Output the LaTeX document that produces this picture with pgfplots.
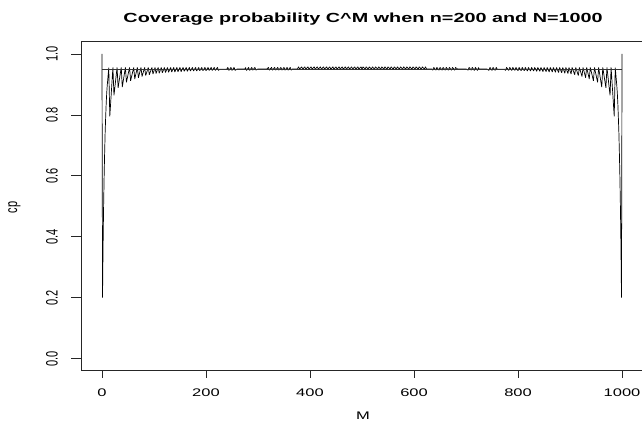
\documentclass[border=0pt]{standalone}
\usepackage{pgfplots}
\pgfplotsset{compat=1.18}
\usepackage{fontspec}
\setmainfont{Liberation Sans}
\newcommand\rfont{\fontsize{11}{13}\selectfont}
\pgfplotstableread{
M cp
0 1.000
1 0.200
2 0.360
3 0.490
4 0.590
5 0.670
6 0.740
7 0.790
8 0.835
9 0.870
10 0.895
11 0.915
12 0.935
13 0.955
15 0.795
21 0.956
23 0.864
29 0.956
31 0.889
37 0.956
39 0.891
45 0.956
47 0.907
53 0.956
55 0.912
61 0.956
63 0.918
68 0.956
70 0.922
75 0.956
77 0.926
82 0.956
84 0.929
89 0.956
91 0.932
96 0.956
98 0.934
102 0.956
104 0.936
108 0.956
110 0.937
114 0.956
116 0.938
120 0.956
122 0.939
126 0.956
128 0.940
132 0.956
134 0.941
138 0.956
140 0.941
144 0.956
146 0.942
150 0.956
152 0.942
156 0.956
158 0.943
162 0.956
164 0.943
168 0.956
170 0.944
174 0.956
176 0.944
180 0.956
182 0.944
186 0.956
188 0.945
192 0.956
194 0.945
198 0.956
200 0.945
204 0.956
206 0.946
210 0.956
212 0.946
216 0.956
218 0.946
222 0.956
224 0.946
226 0.950
240 0.950
242 0.956
244 0.946
248 0.956
250 0.946
254 0.956
256 0.946
260 0.951
275 0.951
276 0.956
278 0.946
282 0.956
284 0.946
288 0.956
290 0.947
294 0.956
296 0.947
300 0.951
317 0.951
320 0.956
322 0.947
326 0.956
328 0.947
332 0.956
334 0.947
338 0.956
340 0.947
344 0.956
346 0.947
350 0.956
352 0.947
356 0.956
358 0.947
362 0.956
364 0.947
366 0.951
376 0.951
378 0.958
380 0.950
384 0.958
386 0.950
390 0.958
392 0.950
396 0.958
398 0.950
402 0.958
404 0.950
408 0.958
410 0.950
414 0.958
416 0.950
420 0.958
422 0.950
426 0.958
428 0.950
432 0.958
434 0.950
438 0.958
440 0.950
444 0.958
446 0.950
450 0.958
452 0.950
456 0.958
458 0.950
462 0.958
464 0.950
468 0.958
470 0.950
474 0.958
476 0.950
480 0.958
482 0.950
486 0.958
488 0.950
492 0.958
494 0.950
498 0.958
500 0.950
502 0.958
506 0.950
508 0.958
512 0.950
514 0.958
518 0.950
520 0.958
524 0.950
526 0.958
530 0.950
532 0.958
536 0.950
538 0.958
542 0.950
544 0.958
548 0.950
550 0.958
554 0.950
556 0.958
560 0.950
562 0.958
566 0.950
568 0.958
572 0.950
574 0.958
578 0.950
580 0.958
584 0.950
586 0.958
590 0.950
592 0.958
596 0.950
598 0.958
602 0.950
604 0.958
608 0.950
610 0.958
614 0.950
616 0.958
620 0.950
622 0.958
624 0.951
634 0.951
636 0.947
638 0.956
642 0.947
644 0.956
648 0.947
650 0.956
654 0.947
656 0.956
660 0.947
662 0.956
666 0.947
668 0.956
672 0.947
674 0.956
678 0.947
680 0.956
683 0.951
700 0.951
704 0.947
706 0.956
710 0.947
712 0.956
716 0.946
718 0.956
722 0.946
724 0.956
725 0.951
740 0.951
744 0.946
746 0.956
750 0.946
752 0.956
756 0.946
758 0.956
760 0.950
774 0.950
776 0.946
778 0.956
782 0.946
784 0.956
788 0.946
790 0.956
794 0.946
796 0.956
800 0.945
802 0.956
806 0.945
808 0.956
812 0.945
814 0.956
818 0.944
820 0.956
824 0.944
826 0.956
830 0.944
832 0.956
836 0.943
838 0.956
842 0.943
844 0.956
848 0.942
850 0.956
854 0.942
856 0.956
860 0.941
862 0.956
866 0.941
868 0.956
872 0.940
874 0.956
878 0.939
880 0.956
884 0.938
886 0.956
890 0.937
892 0.956
896 0.936
898 0.956
902 0.934
904 0.956
909 0.932
911 0.956
916 0.929
918 0.956
923 0.926
925 0.956
930 0.922
932 0.956
937 0.918
939 0.956
945 0.912
947 0.956
953 0.907
955 0.956
961 0.891
963 0.956
969 0.889
971 0.956
977 0.864
979 0.956
985 0.795
987 0.955
988 0.935
989 0.915
990 0.895
991 0.870
992 0.835
993 0.790
994 0.740
995 0.670
996 0.590
997 0.490
998 0.360
999 0.200
1000 1.000
}\cpdata
\begin{document}
\begin{tikzpicture}[x=1pt,y=1pt]
\begin{axis}[
  at={(81.2pt,50.2pt)}, anchor=south west,
  scale only axis, width=563.8pt, height=329pt,
  xmin=-40, xmax=1044.2, ymin=-0.04, ymax=1.04,
  axis x line*=box, axis y line*=left,
  xtick={0,200,400,600,800,1000},
  ytick={0,0.2,0.4,0.6,0.8,1},
  minor tick num=0,
  tick align=outside,
  major tick length=6.7pt,
  xtick pos=bottom, ytick pos=left,
  axis line style={line width=0.8pt, black!85},
  xtick style={line width=0.8pt, black!85},
  ytick style={line width=0.8pt, black!85, /pgfplots/major tick length=10pt},
  tick label style={font=\rfont, inner sep=0pt, xscale=1.5},
  /pgf/number format/assume math mode=true,
  xticklabel style={anchor=north, /pgf/number format/1000 sep={}},
  yticklabel style={rotate=90, anchor=south, /pgf/number format/fixed, /pgf/number format/fixed zerofill, /pgf/number format/precision=1},
  xticklabel shift=10.8pt,
  yticklabel shift=16.3pt,
  xlabel={M}, ylabel={cp},
  every axis x label/.style={at={(axis description cs:0.5,-0.1374)}, anchor=center, font=\rfont, inner sep=0pt, xscale=1.5},
  every axis y label/.style={at={(axis description cs:-0.1184,0.4964)}, anchor=center, font=\rfont, inner sep=0pt, xscale=1.5, rotate=90},
  title={Coverage probability C\textasciicircum M when n=200 and N=1000},
  every axis title/.style={at={(axis description cs:0.5,1.0587)}, anchor=base, font=\fontsize{13.2}{16}\selectfont\bfseries, inner sep=0pt, xscale=1.5},
]
\addplot[black, line width=0.7pt, line join=bevel] table[x=M, y=cp] {\cpdata};
\addplot[black!80, line width=0.7pt] coordinates {(0,0.95) (1000,0.95)};
\end{axis}
\pgfresetboundingbox
\path[use as bounding box] (0,0) rectangle (642,421);
\end{tikzpicture}
\end{document}
